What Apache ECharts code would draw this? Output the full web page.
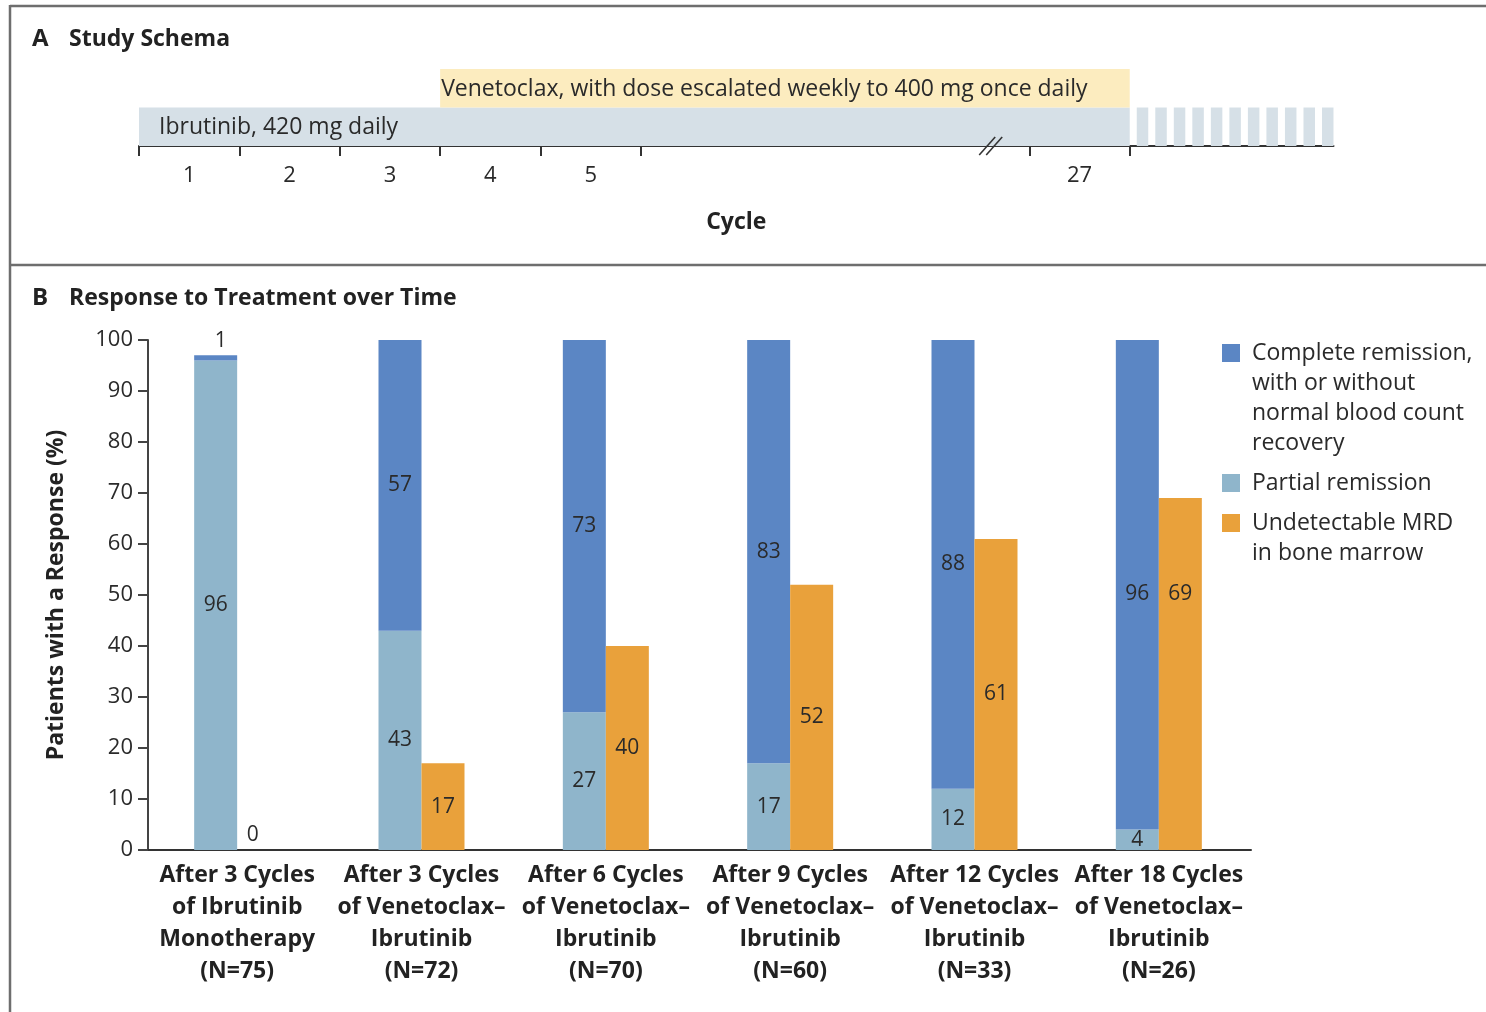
<!DOCTYPE html>
<html><head><meta charset="utf-8">
<script src="https://cdn.jsdelivr.net/npm/echarts@6/dist/echarts.min.js"></script>
<style>html,body{margin:0;padding:0;background:#fff}#c{width:1486px;height:1012px}</style>
</head><body><div id="c"></div>
<script>
// ---------- Panel B data ----------
const categories = [
  'After 3 Cycles\nof Ibrutinib\nMonotherapy\n(N=75)',
  'After 3 Cycles\nof Venetoclax–\nIbrutinib\n(N=72)',
  'After 6 Cycles\nof Venetoclax–\nIbrutinib\n(N=70)',
  'After 9 Cycles\nof Venetoclax–\nIbrutinib\n(N=60)',
  'After 12 Cycles\nof Venetoclax–\nIbrutinib\n(N=33)',
  'After 18 Cycles\nof Venetoclax–\nIbrutinib\n(N=26)'
];
const partialRemission = [96, 43, 27, 17, 12, 4];
const completeRemission = [1, 57, 73, 83, 88, 96];
const undetectableMRD = [0, 17, 40, 52, 61, 69];
const seriesNames = ['Complete remission, with or without normal blood count recovery', 'Partial remission', 'Undetectable MRD in bone marrow'];
const legendLines = [
  ['Complete remission,', 'with or without', 'normal blood count', 'recovery'],
  ['Partial remission'],
  ['Undetectable MRD', 'in bone marrow']
];

// ---------- Panel A data (timeline in cycle-slot units) ----------
const cycleBoundaries = [0, 1, 2, 3, 4, 5, 8.87, 9.87];
const cycleLabelPos = [0.5, 1.5, 2.5, 3.5, 4.5, 9.37];
const cycleLabelText = ['1', '2', '3', '4', '5', '27'];
const regimenNames = ['Ibrutinib, 420 mg daily', 'Venetoclax, with dose escalated weekly to 400 mg once daily'];
const regimenStart = [0, 3];
const regimenEnd = [9.87, 9.87];
const regimenRow = [0, 1];
const continuation = [9.87, 11.9];
const axisBreakPos = 8.46;

// ---------- styles ----------
const FONT = 'Open Sans';
const C_CR = '#5b86c4', C_PR = '#8fb5cb', C_MRD = '#e9a13b';
const regimenColors = ['#d6e0e7', '#fcecbf'];
const regimenTextOffset = [20, 1];
const TXT = '#2a2a2a';
const crLabelOffset = [[5, 0], [0, 0], [0, 0], [0, 0], [0, 0], [0, 9]];
const mrdLabelOffset = [[-6, 0], [0, 0], [0, 0], [0, 0], [0, 0], [0, -80]];

const chart = echarts.init(document.getElementById('c'), null, {renderer: 'canvas'});

function legendFor(i, top) {
  const lines = legendLines[i];
  const pad = [];
  for (let k = 1; k < lines.length; k++) pad.push('\u00a0');
  return {
    show: true, orient: 'vertical', left: 1222, top: top, padding: 0,
    selectedMode: false, itemWidth: 18, itemHeight: 18, icon: 'rect',
    data: [seriesNames[i]],
    formatter: () => pad.concat(lines).join('\n'),
    textStyle: {fontFamily: FONT, fontSize: 23, lineHeight: 30, color: TXT, padding: [0, 0, 0, 7]}
  };
}

const option = {
  backgroundColor: '#fff',
  animation: false,
  textStyle: {fontFamily: FONT},
  title: [
    {text: 'A', left: 27, top: 22, textStyle: {fontFamily: FONT, fontSize: 24, fontWeight: 'bold', color: '#222'}},
    {text: 'Study Schema', left: 64, top: 23, textStyle: {fontFamily: FONT, fontSize: 23, fontWeight: 'bold', color: '#222'}},
    {text: 'B', left: 27, top: 281, textStyle: {fontFamily: FONT, fontSize: 24, fontWeight: 'bold', color: '#222'}},
    {text: 'Response to Treatment over Time', left: 64, top: 282, textStyle: {fontFamily: FONT, fontSize: 23, fontWeight: 'bold', color: '#222'}}
  ],
  legend: [legendFor(0, 248), legendFor(1, 468), legendFor(2, 478)],
  grid: [
    {left: 139, top: 69, width: 1194.5, height: 77},
    {left: 145, top: 340, width: 1106, height: 510}
  ],
  xAxis: [
    {
      gridIndex: 0, type: 'value', min: 0, max: 11.9,
      axisLine: {show: true, lineStyle: {color: '#333', width: 2}},
      axisTick: {show: true, length: 10, customValues: cycleBoundaries, lineStyle: {color: '#333', width: 2}},
      axisLabel: {
        customValues: cycleLabelPos, margin: 19, fontFamily: FONT, fontSize: 22, color: TXT,
        formatter: v => { const k = cycleLabelPos.findIndex(p => Math.abs(p - v) < 1e-6); return k >= 0 ? cycleLabelText[k] : ''; }
      },
      splitLine: {show: false},
      name: 'Cycle', nameLocation: 'middle', nameGap: 65,
      nameTextStyle: {fontFamily: FONT, fontSize: 23, fontWeight: 'bold', color: '#222'}
    },
    {
      gridIndex: 1, type: 'category', data: categories,
      axisLine: {show: true, lineStyle: {color: '#333', width: 2}},
      axisTick: {show: false},
      axisLabel: {interval: 0, margin: 9, fontFamily: FONT, fontSize: 23, fontWeight: 'bold', lineHeight: 32, color: '#222'}
    }
  ],
  yAxis: [
    {gridIndex: 0, type: 'value', min: 0, max: 2, show: false},
    {
      gridIndex: 1, type: 'value', min: 0, max: 100, interval: 10, offset: -3,
      axisLine: {show: true, lineStyle: {color: '#444', width: 2}},
      axisTick: {show: true, length: 10, lineStyle: {color: '#444', width: 2}},
      axisLabel: {margin: 15, fontFamily: FONT, fontSize: 22, color: TXT},
      splitLine: {show: false},
      name: 'Patients with a Response (%)', nameLocation: 'middle', nameGap: 80, nameRotate: 90,
      nameTextStyle: {fontFamily: FONT, fontSize: 23, fontWeight: 'bold', color: '#222'}
    }
  ],
  series: [
    {
      type: 'custom', xAxisIndex: 0, yAxisIndex: 0, silent: true,
      data: regimenNames.map((n, i) => [regimenStart[i], regimenEnd[i], regimenRow[i], i]),
      renderItem: (params, api) => {
        const i = api.value(3);
        const s = api.coord([api.value(0), api.value(2)]);
        const e = api.coord([api.value(1), api.value(2) + 1]);
        return {type: 'group', children: [
          {type: 'rect', shape: {x: s[0], y: e[1], width: e[0] - s[0], height: s[1] - e[1]}, style: {fill: regimenColors[i]}},
          {type: 'text', style: {text: regimenNames[i], x: s[0] + regimenTextOffset[i], y: (s[1] + e[1]) / 2 + 1,
            verticalAlign: 'middle', fill: TXT, font: '23px "' + FONT + '"'}}
        ]};
      }
    },
    {
      type: 'custom', xAxisIndex: 0, yAxisIndex: 0, silent: true,
      data: [[continuation[0], continuation[1], 0]],
      renderItem: (params, api) => {
        const s = api.coord([api.value(0), api.value(2)]);
        const e = api.coord([api.value(1), api.value(2) + 1]);
        const period = (e[0] - s[0]) / 11, w = 11.5;
        const kids = [];
        for (let x = e[0] - w; x > s[0] + 1; x -= period) {
          kids.push({type: 'rect', shape: {x: x, y: e[1], width: w, height: s[1] - e[1]}, style: {fill: regimenColors[0]}});
        }
        return {type: 'group', children: kids};
      }
    },
    {
      type: 'custom', xAxisIndex: 0, yAxisIndex: 0, silent: true, z: 5,
      data: [[axisBreakPos, 0]],
      renderItem: (params, api) => {
        const p = api.coord([api.value(0), api.value(1)]);
        const ls = {stroke: '#333', lineWidth: 1.6};
        return {type: 'group', children: [
          {type: 'line', shape: {x1: p[0] - 9, y1: p[1] + 9, x2: p[0] + 7, y2: p[1] - 9}, style: ls},
          {type: 'line', shape: {x1: p[0] - 2, y1: p[1] + 9, x2: p[0] + 14, y2: p[1] - 9}, style: ls}
        ]};
      }
    },
    {
      name: seriesNames[1], type: 'bar', xAxisIndex: 1, yAxisIndex: 1, stack: 'resp',
      barWidth: 43, barGap: '0%', data: partialRemission,
      itemStyle: {color: C_PR},
      label: {show: true, position: 'inside', fontFamily: FONT, fontSize: 21, color: TXT}
    },
    {
      name: seriesNames[0], type: 'bar', xAxisIndex: 1, yAxisIndex: 1, stack: 'resp',
      barWidth: 43, barGap: '0%',
      data: completeRemission.map((v, i) => ({value: v, label: v < 5 ? {position: 'top', distance: 4, offset: crLabelOffset[i]} : {offset: crLabelOffset[i]}})),
      itemStyle: {color: C_CR},
      label: {show: true, position: 'inside', fontFamily: FONT, fontSize: 21, color: TXT}
    },
    {
      name: seriesNames[2], type: 'bar', xAxisIndex: 1, yAxisIndex: 1,
      barWidth: 43, barGap: '0%',
      data: undetectableMRD.map((v, i) => ({value: v, label: v < 5 ? {position: 'top', distance: 4, offset: mrdLabelOffset[i]} : {offset: mrdLabelOffset[i]}})),
      itemStyle: {color: C_MRD},
      label: {show: true, position: 'inside', fontFamily: FONT, fontSize: 21, color: TXT}
    }
  ],
  graphic: [
    {type: 'line', shape: {x1: 10, y1: 6, x2: 1486, y2: 6}, style: {stroke: '#6e6e6e', lineWidth: 2.5}, silent: true},
    {type: 'line', shape: {x1: 10, y1: 5, x2: 10, y2: 1012}, style: {stroke: '#6e6e6e', lineWidth: 2.5}, silent: true},
    {type: 'line', shape: {x1: 10, y1: 265, x2: 1486, y2: 265}, style: {stroke: '#6e6e6e', lineWidth: 2.5}, silent: true}
  ]
};
chart.setOption(option);
</script>
</body></html>
